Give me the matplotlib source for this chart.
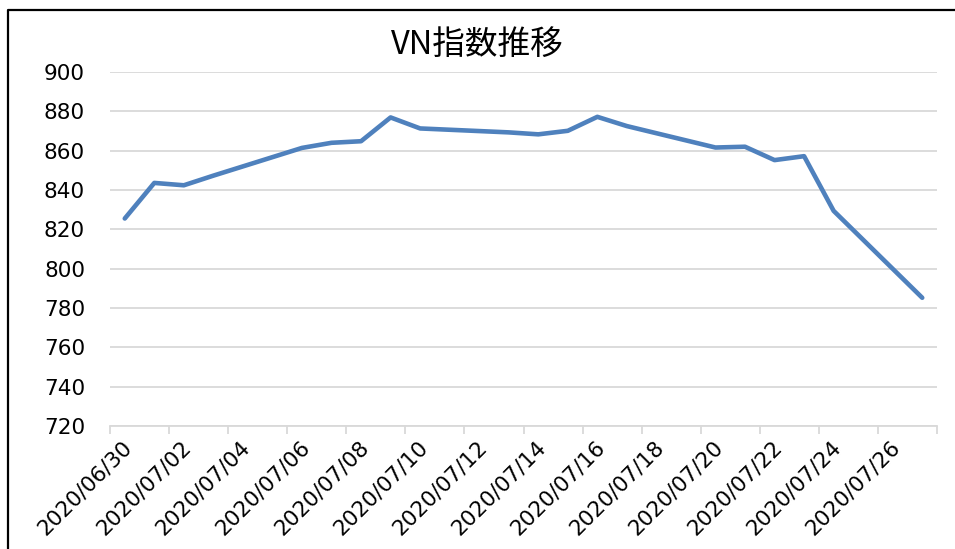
"""VN指数推移 (2020/06/30 - 2020/07/27) の折れ線グラフ."""

import matplotlib

matplotlib.use("Agg")

import matplotlib.dates as mdates
import matplotlib.pyplot as plt
import matplotlib.transforms as mtransforms
import pandas as pd
from matplotlib.lines import Line2D

plt.rcParams["font.family"] = ["DejaVu Sans", "Noto Sans CJK JP"]

# 取引日と終値
dates = [
    "2020-06-30", "2020-07-01", "2020-07-02", "2020-07-03", "2020-07-06",
    "2020-07-07", "2020-07-08", "2020-07-09", "2020-07-10", "2020-07-13",
    "2020-07-14", "2020-07-15", "2020-07-16", "2020-07-17", "2020-07-20",
    "2020-07-21", "2020-07-22", "2020-07-23", "2020-07-24", "2020-07-27",
]
values = [
    825.5, 843.6, 842.4, 847.3, 861.4,
    864.0, 864.8, 876.9, 871.3, 869.3,
    868.3, 870.1, 877.2, 872.5, 861.6,
    862.0, 855.2, 857.2, 829.4, 785.2,
]
y_ticks = [720, 740, 760, 780, 800, 820, 840, 860, 880, 900]

GRID = "#d9d9d9"
LINE = "#4f81bd"

x = pd.to_datetime(dates) + pd.Timedelta(hours=12)  # 日の中央に描く

fig = plt.figure(figsize=(9.55, 5.49), dpi=100)
ax = fig.add_axes([110 / 955, 1 - 426 / 549, 827 / 955, 354 / 549])

ax.plot(x, values, color=LINE, linewidth=3.3, solid_capstyle="round",
        solid_joinstyle="round", zorder=3)

ax.set_xlim(pd.Timestamp("2020-06-30"), pd.Timestamp("2020-07-28"))
ax.set_ylim(720, 900)
ax.set_yticks(y_ticks)
ax.yaxis.grid(True, color=GRID, linewidth=1.3)
ax.set_axisbelow(True)

ax.xaxis.set_major_locator(mdates.DayLocator(interval=2))
ticks = ax.get_xticks()
ax.set_xticks(ticks)
labels = [mdates.num2date(t).strftime("%Y/%m/%d") for t in ticks]
labels[-1] = ""
ax.set_xticklabels(labels)

for s in ["top", "right", "left"]:
    ax.spines[s].set_visible(False)
ax.spines["bottom"].set_color(GRID)
ax.spines["bottom"].set_linewidth(1.3)

ax.tick_params(axis="x", direction="out", length=6, width=1.3, color=GRID,
               labelsize=15.5, pad=2)
ax.tick_params(axis="y", length=0, labelsize=15.5, pad=18)

offset = mtransforms.ScaledTranslation(12 / 100, 0, fig.dpi_scale_trans)
for lab in ax.get_xticklabels():
    lab.set_rotation(45)
    lab.set_ha("right")
    lab.set_va("top")
    lab.set_rotation_mode("anchor")
    lab.set_transform(lab.get_transform() + offset)

fig.text(0.5, 1 - 45 / 549, "VN指数推移", ha="center", va="center",
         fontsize=23.5, family=["Noto Sans CJK JP", "DejaVu Sans"])

# 外枠 (左と上のみ見えている)
fig.add_artist(Line2D([8 / 955, 8 / 955, 1.0], [0.0, 1 - 10 / 549, 1 - 10 / 549],
                      transform=fig.transFigure, color="black", linewidth=1.6))

fig.savefig("out.png", dpi=100)
